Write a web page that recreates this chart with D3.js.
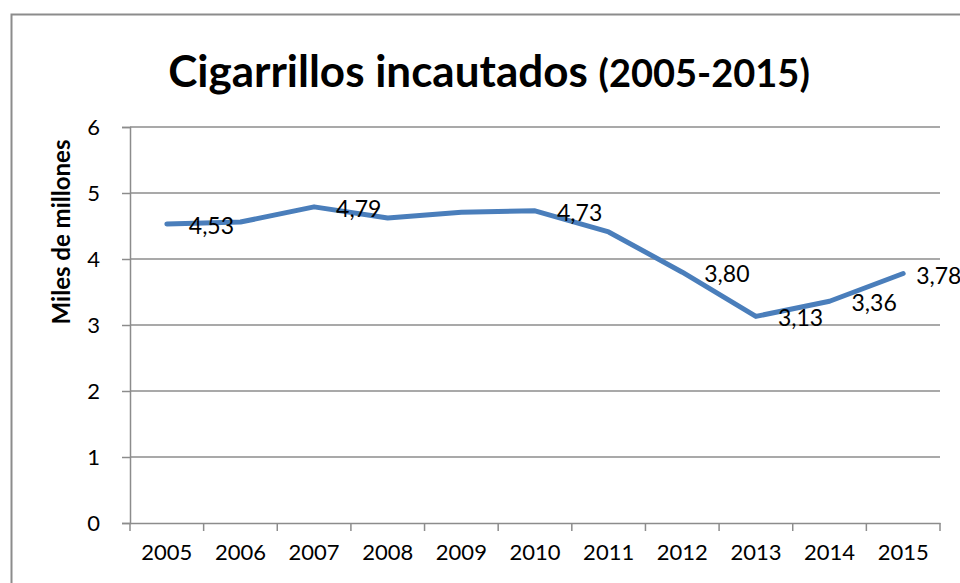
<!DOCTYPE html>
<html>
<head>
<meta charset="utf-8">
<script src="https://cdn.jsdelivr.net/npm/d3@7"></script>
<style>
  body{margin:0;background:#fff;}
  svg{display:block;font-family:Lato,"Open Sans",sans-serif;}
</style>
</head>
<body>
<svg id="chart"></svg>
<script>
// datos del gráfico
const years = ["2005","2006","2007","2008","2009","2010","2011","2012","2013","2014","2015"];
const values = [4.53, 4.56, 4.79, 4.62, 4.71, 4.73, 4.41, 3.80, 3.13, 3.36, 3.78];
const labelled = ["2005","2007","2010","2012","2013","2014","2015"];
const yTicks = [0,1,2,3,4,5,6];

const width = 960, height = 583;

const svg = d3.select("#chart").attr("width",width).attr("height",height);

// marco exterior
svg.append("rect")
  .attr("x",11.5).attr("y",14.5)
  .attr("width",1000).attr("height",1000)
  .attr("fill","#fff").attr("stroke","#8c8c8c").attr("stroke-width",2);

const xScale = d3.scaleBand().domain(years).range([130,940]);
const yScale = d3.scaleLinear().domain([0,6]).range([523,127]);

// lineas de grilla
svg.append("g")
  .selectAll("line")
  .data(yTicks.filter(d=>d>0))
  .join("line")
  .attr("x1",130).attr("x2",940)
  .attr("y1",d=>yScale(d)).attr("y2",d=>yScale(d))
  .attr("stroke","#8c8c8c").attr("stroke-width",1.5);

// eje y
const yAxis = svg.append("g")
  .attr("transform","translate(130,0)")
  .call(d3.axisLeft(yScale).tickValues(yTicks).tickSize(8).tickPadding(22).tickFormat(d3.format("d")));
yAxis.select(".domain").attr("stroke","#8c8c8c").attr("stroke-width",1.5);
yAxis.selectAll(".tick line").attr("stroke","#8c8c8c").attr("stroke-width",1.5);
yAxis.selectAll("text").attr("font-size","22px").attr("fill","#000").attr("font-family","Lato");

// eje x (marcas entre categorias)
const xAxis = svg.append("g")
  .attr("transform","translate(0,523)")
  .call(d3.axisBottom(xScale).tickSize(0).tickPadding(21));
xAxis.select(".domain").attr("stroke","#8c8c8c").attr("stroke-width",1.5);
xAxis.selectAll("text").attr("font-size","22px").attr("fill","#000").attr("font-family","Lato");
svg.append("g")
  .selectAll("line")
  .data(years.concat(["end"]))
  .join("line")
  .attr("x1",(d,i)=> i<years.length ? xScale(d) : xScale(years[years.length-1])+xScale.bandwidth())
  .attr("x2",(d,i)=> i<years.length ? xScale(d) : xScale(years[years.length-1])+xScale.bandwidth())
  .attr("y1",523).attr("y2",531)
  .attr("stroke","#8c8c8c").attr("stroke-width",1.5);

// linea
const cx = d => xScale(d) + xScale.bandwidth()/2;
const valueline = d3.line()
  .x((d,i)=>cx(years[i]))
  .y(d=>yScale(d));
svg.append("path")
  .datum(values)
  .attr("d",valueline)
  .attr("fill","none")
  .attr("stroke","#4a7ebb")
  .attr("stroke-width",5)
  .attr("stroke-linejoin","round")
  .attr("stroke-linecap","round");

// etiquetas de datos
svg.append("g")
  .selectAll("text")
  .data(years.map((y,i)=>({y:y,v:values[i],i:i})).filter(d=>labelled.includes(d.y)))
  .join("text")
  .attr("x",d=>cx(d.y) + (d.i===years.length-1 ? 13 : 22))
  .attr("y",d=>yScale(d.v)+2)
  .attr("dy","0.35em")
  .attr("font-size","23px")
  .attr("fill","#000")
  .text(d=>d3.format(".2f")(d.v).replace(".",","));

// titulo
const title = svg.append("text")
  .attr("x",489).attr("y",87)
  .attr("text-anchor","middle")
  .attr("font-weight","bold")
  .attr("font-size","44px")
  .attr("fill","#000");
title.append("tspan").text("Cigarrillos incautados ");
title.append("tspan").attr("font-size","38px").text("(2005-2015)");

// titulo eje y
svg.append("text")
  .attr("transform","translate(70,232) rotate(-90)")
  .attr("text-anchor","middle")
  .attr("font-weight","bold")
  .attr("font-size","24px")
  .attr("fill","#000")
  .text("Miles de millones");
</script>
</body>
</html>
